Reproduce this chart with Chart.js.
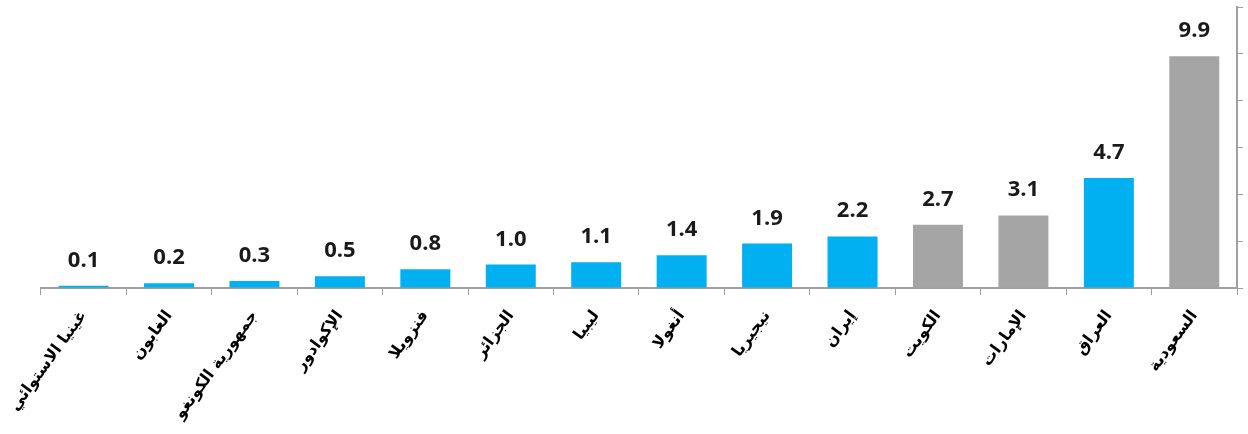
<!DOCTYPE html>
<html>
<head>
<meta charset="utf-8">
<script src="https://cdn.jsdelivr.net/npm/chart.js@4/dist/chart.umd.min.js"></script>
<style>
  html, body { margin: 0; padding: 0; background: #ffffff; }
  #wrap { width: 1248px; height: 434px; }
</style>
</head>
<body>
<div id="wrap"><canvas id="c" width="1248" height="434"></canvas></div>
<script>
const categories = [
  'غينيا الاستوائي', 'الغابون', 'جمهورية الكونغو', 'الإكوادور', 'فنزويلا',
  'الجزائر', 'ليبيا', 'أنغولا', 'نيجيريا', 'إيران',
  'الكويت', 'الإمارات', 'العراق', 'السعودية'
];
const values = [0.1, 0.2, 0.3, 0.5, 0.8, 1.0, 1.1, 1.4, 1.9, 2.2, 2.7, 3.1, 4.7, 9.9];
const grayCategories = ['الكويت', 'الإمارات', 'السعودية'];
const yTicks = [0, 2, 4, 6, 8, 10, 12];

const BLUE = '#00B0F0';
const GRAY = '#A5A5A5';
const AXIS = '#A0A0A0';

const barColors = categories.map(c => grayCategories.includes(c) ? GRAY : BLUE);

const valueLabels = {
  id: 'valueLabels',
  afterDatasetsDraw(chart) {
    const ctx = chart.ctx;
    const meta = chart.getDatasetMeta(0);
    ctx.save();
    ctx.font = 'bold 22px "Open Sans", "Liberation Sans", sans-serif';
    ctx.fillStyle = '#1a1a1a';
    ctx.textAlign = 'center';
    ctx.textBaseline = 'alphabetic';
    meta.data.forEach((bar, i) => {
      ctx.fillText(values[i].toFixed(1), bar.x, bar.y - 19);
    });
    ctx.restore();
  }
};

new Chart(document.getElementById('c'), {
  type: 'bar',
  data: {
    labels: categories,
    datasets: [{
      data: values,
      backgroundColor: barColors,
      borderWidth: 0,
      barPercentage: 0.585,
      categoryPercentage: 1.0
    }]
  },
  options: {
    responsive: false,
    animation: false,
    devicePixelRatio: 1,
    layout: { padding: { top: 7, right: 0, left: 38, bottom: 0 } },
    plugins: { legend: { display: false }, tooltip: { enabled: false } },
    scales: {
      x: {
        offset: true,
        afterFit(scale) { scale.height = 146; },
        grid: { display: true, offset: true, drawOnChartArea: false, drawTicks: true, tickLength: 7, color: AXIS, lineWidth: 1 },
        border: { display: true, color: AXIS, width: 2 },
        ticks: {
          autoSkip: false,
          minRotation: 54,
          maxRotation: 54,
          color: '#000000',
          padding: 12,
          font: { family: '"DejaVu Sans"', size: 16, weight: 'bold' }
        }
      },
      y: {
        position: 'right',
        min: 0,
        max: 12,
        afterFit(scale) { scale.width = 11; },
        afterBuildTicks(scale) { scale.ticks = yTicks.map(v => ({ value: v })); },
        grid: { display: true, drawOnChartArea: false, drawTicks: true, tickLength: 6, color: AXIS, lineWidth: 1 },
        border: { display: true, color: AXIS, width: 2 },
        ticks: { display: false }
      }
    }
  },
  plugins: [valueLabels]
});
</script>
</body>
</html>
